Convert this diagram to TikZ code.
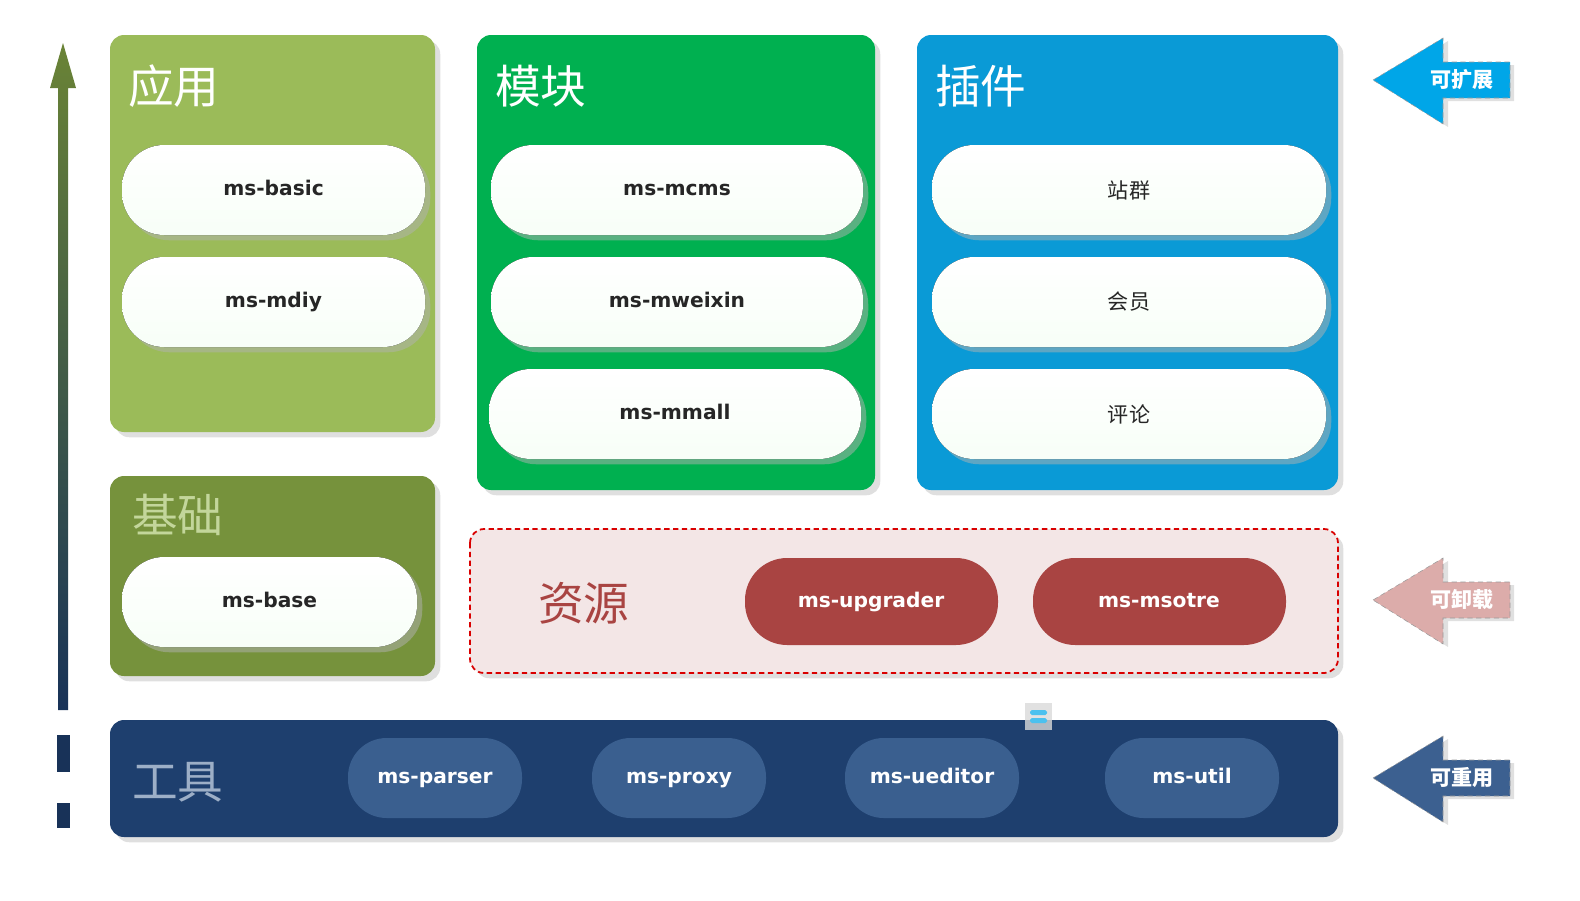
\documentclass[tikz,border=0pt]{standalone}
\usepackage{fontspec}
\setmainfont{DejaVu Sans}
\newfontfamily\cjk{Noto Sans CJK SC}
\usetikzlibrary{shadows, positioning}
\definecolor{appgreen}{HTML}{9BBB59}
\definecolor{basegreen}{HTML}{76923C}
\definecolor{modgreen}{HTML}{00B050}
\definecolor{plugblue}{HTML}{0A9AD6}
\definecolor{resred}{HTML}{A94442}
\definecolor{resfill}{HTML}{F3E6E6}
\definecolor{toolnavy}{HTML}{1E3F6E}
\definecolor{toolpill}{HTML}{3A5F8F}
\definecolor{extcyan}{HTML}{00A6E8}
\definecolor{unpink}{HTML}{DCACAA}
\definecolor{reblue}{HTML}{3C6090}
\tikzset{
    layer/.style = {rounded corners=8pt, drop shadow={shadow xshift=3pt, shadow yshift=-3pt, fill=black!25}},
    title/.style = {anchor=west, font=\cjk\fontsize{26}{28}\selectfont},
    pill/.style = {rounded corners=24pt, top color=white, bottom color=black!8!green!3!white,
        drop shadow={shadow xshift=3pt, shadow yshift=-3pt, fill=black!30}},
    pilltext/.style = {font=\bfseries\fontsize{11.5}{13}\selectfont, text height=1.5ex, text depth=0.4ex},
    redpill/.style = {rounded corners=24pt, fill=resred},
    toolpill/.style = {rounded corners=22pt, fill=toolpill},
    sidearrow/.style = {draw=white!60!black, densely dashed, line width=0.3pt}
}
\begin{document}
\begin{tikzpicture}[x=0.02cm, y=-0.02cm]
\useasboundingbox (0,0) rectangle (1580,900);
% growth arrow
\shade[top color=basegreen!90!black, bottom color=toolnavy!80!black]
    (58,710) -- (58,88) -- (50,88) -- (63,43) -- (76,88) -- (68,88) -- (68,710) -- cycle;
\fill[toolnavy!80!black] (57,735) rectangle (70,772);
\fill[toolnavy!80!black] (57,803) rectangle (70,828);
% layers
\fill[layer, appgreen] (110,35) rectangle (435,432);
\node[title, text=white] (app) at (122,86) {应用};
\fill[layer, basegreen] (110,476) rectangle (435,676);
\node[title, text=appgreen!60!white] (base) at (126,515) {基础};
\fill[layer, modgreen] (477,35) rectangle (875,490);
\node[title, text=white] (mod) at (489,86) {模块};
\fill[layer, plugblue] (917,35) rectangle (1338,490);
\node[title, text=white] (plug) at (929,86) {插件};
\draw[layer, fill=resfill, draw=red!85!black, densely dashed, line width=1pt] (470,529) rectangle (1338,673);
\node[title, text=resred] (res) at (532,603) {资源};
\fill[layer, toolnavy] (110,720) rectangle (1338,837);
\node[title, text=toolpill!50!white] (tool) at (126,782) {工具};
% pills
\foreach \x/\w/\y/\t in {122/425/190/ms-basic, 122/425/302/ms-mdiy, 122/417/602/ms-base,
    491/863/190/ms-mcms, 491/863/302/ms-mweixin, 489/861/414/ms-mmall}{
    \fill[pill] (\x,\y-45) rectangle (\w,\y+45);
    \node[pilltext, text=black!85] at ({(\x+\w)/2},\y) {\t};
}
\foreach \y/\t in {190/站群, 302/会员, 414/评论}{
    \fill[pill] (932,\y-45) rectangle (1326,\y+45);
    \node[font=\cjk\fontsize{12}{14}\selectfont, text=black!85] at (1129,\y) {\t};
}
\foreach \x/\t in {745/ms-upgrader, 1033/ms-msotre}{
    \fill[redpill] (\x,558) rectangle (\x+253,645);
    \node[pilltext, text=white] at (\x+126,602) {\t};
}
\foreach \x/\t in {348/ms-parser, 592/ms-proxy, 845/ms-ueditor, 1105/ms-util}{
    \fill[toolpill] (\x,738) rectangle (\x+174,818);
    \node[pilltext, text=white] at (\x+87,778) {\t};
}
% small icon
\fill[white!85!black, opacity=0.8] (1025,703) rectangle (1052,730);
\fill[extcyan!70!white, rounded corners=1] (1030,710) rectangle (1047,715);
\fill[extcyan!70!white, rounded corners=1] (1030,718) rectangle (1047,723);
% side arrows
\foreach \y/\c/\t [count=\i] in {80/extcyan/可扩展, 600/unpink/可卸载, 778/reblue/可重用}{
    \fill[black!12] (1378,\y+3) -- (1448,\y-39) -- (1448,\y-15) -- (1514,\y-15) -- (1514,\y+21)
        -- (1448,\y+21) -- (1448,\y+47) -- cycle;
    \draw[sidearrow, fill=\c] (1373,\y) -- (1443,\y-42) -- (1443,\y-18) -- (1510,\y-18) -- (1510,\y+18)
        -- (1443,\y+18) -- (1443,\y+44) -- cycle;
    \node[font=\cjk\bfseries\fontsize{12}{14}\selectfont, text=white] (side\i) at (1462,\y) {\t};
}
\end{tikzpicture}
\end{document}
